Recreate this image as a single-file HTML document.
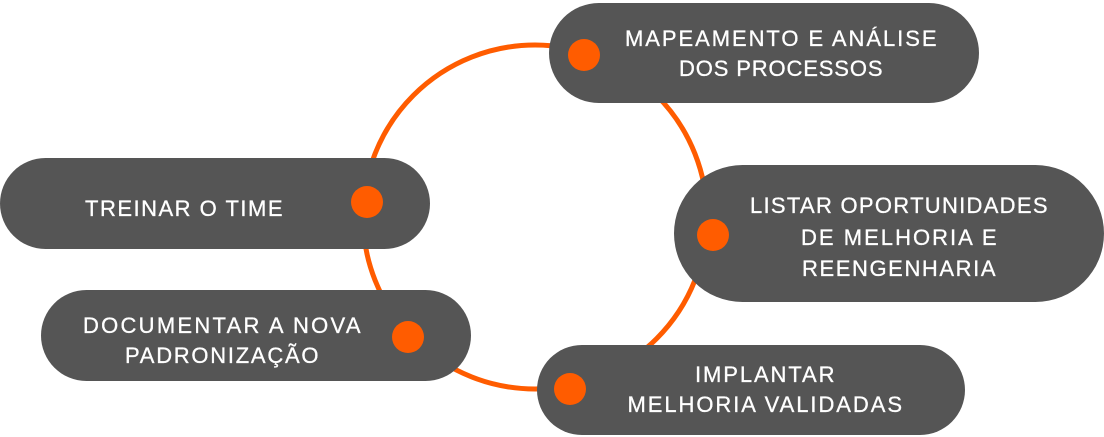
<!DOCTYPE html>
<html><head><meta charset="utf-8"><style>
html,body{margin:0;padding:0;background:#fff;width:1104px;height:437px;overflow:hidden}
text{font-family:"Liberation Sans","DejaVu Sans",sans-serif;font-size:22px;fill:#fff;text-anchor:middle;letter-spacing:0.5px;stroke:#fff;stroke-width:0.3px}
</style></head><body>
<svg width="1104" height="437" viewBox="0 0 1104 437" xmlns="http://www.w3.org/2000/svg">
<circle cx="535" cy="217" r="172" fill="none" stroke="#ff5c00" stroke-width="5"/>
<g fill="#555555">
<rect x="549" y="3" width="430" height="100" rx="50"/>
<rect x="0" y="158" width="430" height="91" rx="45.5"/>
<rect x="674" y="165" width="430" height="137" rx="68.5"/>
<rect x="41" y="290" width="430" height="91" rx="45.5"/>
<rect x="537" y="345" width="428" height="90" rx="45"/>
</g>
<g fill="#ff5c00">
<circle cx="584" cy="55" r="16"/>
<circle cx="367" cy="202" r="16"/>
<circle cx="713" cy="235" r="16"/>
<circle cx="408" cy="337" r="16"/>
<circle cx="570" cy="389" r="16"/>
</g>
<text x="781" y="46" textLength="312">MAPEAMENTO E ANÁLISE</text>
<text x="781" y="76" textLength="204">DOS PROCESSOS</text>
<text x="184" y="216" textLength="198">TREINAR O TIME</text>
<text x="899" y="213" textLength="298">LISTAR OPORTUNIDADES</text>
<text x="899" y="245" textLength="196">DE MELHORIA E</text>
<text x="899" y="276" textLength="194">REENGENHARIA</text>
<text x="222" y="333" textLength="278">DOCUMENTAR A NOVA</text>
<text x="222" y="363" textLength="194">PADRONIZAÇÃO</text>
<text x="765" y="382" textLength="140">IMPLANTAR</text>
<text x="765" y="412" textLength="275">MELHORIA VALIDADAS</text>
</svg>
</body></html>
